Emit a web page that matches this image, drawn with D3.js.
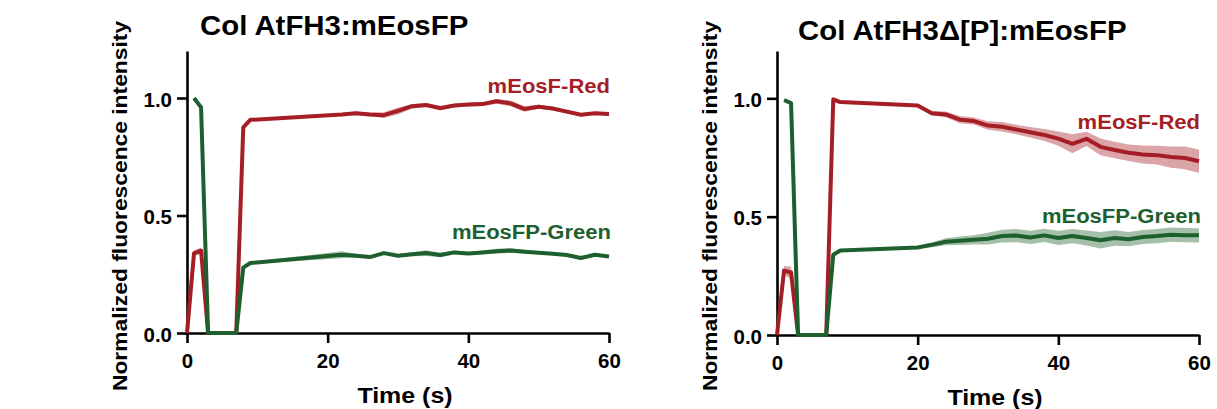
<!DOCTYPE html>
<html>
<head>
<meta charset="utf-8">
<script src="https://cdn.jsdelivr.net/npm/d3@7"></script>
<style>
  html, body { margin: 0; padding: 0; background: #fff; }
  svg { display: block; }
  text { font-family: "Liberation Sans", Arial, sans-serif; font-weight: bold; }
</style>
</head>
<body>
<svg id="chart" width="1217" height="409"></svg>
<script>
// ---------- DATA ----------
const titles = ["Col AtFH3:mEosFP", "Col AtFH3\u0394[P]:mEosFP"];
const yTicks = [0, 0.5, 1.0];
const xTicks = [0, 20, 40, 60];
const seriesNames = ["mEosF-Red", "mEosFP-Green"];

// Panel 1: Col AtFH3:mEosFP
const time1 = [0,1,2,3,4,5,6,7,8,9,22,24,26,28,30,32,34,36,38,40,42,44,46,48,50,52,54,56,58,60];
const red1 = [0,0.34,0.35,0,0,0,0,0,0.875,0.907,0.930,0.935,0.930,0.927,0.945,0.965,0.970,0.957,0.968,0.972,0.974,0.986,0.977,0.953,0.963,0.955,0.942,0.929,0.935,0.932];
const redSem1 = [0,0.01,0.015,0,0,0,0,0,0.005,0.005,0.006,0.008,0.008,0.012,0.015,0.010,0.008,0.010,0.008,0.008,0.008,0.010,0.012,0.012,0.008,0.008,0.008,0.006,0.006,0.006];
const green1 = [null,1.0,0.96,0,0,0,0,0,0.278,0.298,0.333,0.329,0.323,0.340,0.329,0.335,0.340,0.332,0.343,0.338,0.343,0.348,0.351,0.346,0.341,0.337,0.332,0.319,0.333,0.326];
const greenSem1 = [0,0,0,0,0,0,0,0,0.004,0.004,0.015,0.008,0.006,0.006,0.006,0.008,0.012,0.010,0.008,0.006,0.008,0.010,0.010,0.008,0.006,0.006,0.006,0.005,0.005,0.005];

// Panel 2: Col AtFH3Δ[P]:mEosFP
const time2 = [0,1,2,3,4,5,6,7,8,9,20,22,24,26,28,30,32,34,36,38,40,42,44,46,48,50,52,54,56,58,60];
const red2 = [0,0.272,0.264,0,0,0,0,0,0.996,0.984,0.970,0.937,0.932,0.910,0.904,0.885,0.880,0.868,0.857,0.845,0.830,0.808,0.829,0.795,0.782,0.770,0.763,0.760,0.752,0.748,0.734];
const redSem2 = [0,0.02,0.025,0,0,0,0,0,0.005,0.005,0.005,0.010,0.012,0.015,0.015,0.018,0.020,0.020,0.022,0.025,0.030,0.040,0.030,0.035,0.035,0.035,0.038,0.040,0.045,0.048,0.050];
const green2 = [null,0.993,0.98,0,0,0,0,0,0.339,0.357,0.370,0.381,0.394,0.398,0.402,0.407,0.418,0.420,0.412,0.421,0.410,0.418,0.410,0.400,0.410,0.405,0.414,0.418,0.424,0.422,0.421];
const greenSem2 = [0,0,0,0,0,0,0,0,0.004,0.004,0.005,0.010,0.015,0.018,0.020,0.025,0.027,0.028,0.028,0.028,0.030,0.030,0.032,0.035,0.033,0.030,0.030,0.030,0.030,0.030,0.030];

// ---------- STYLE / LAYOUT ----------
const RED = "#a61e25";
const GREEN = "#1d5f2e";
const FONT = 19.5;

const panels = [
  { title: titles[0], time: time1, red: red1, redSem: redSem1, green: green1, greenSem: greenSem1,
    x0: 187, x1: 609, y0: 333, yTop: 51, titleX: 200, titleY: 35, ylabX: 127,
    redLabY: 93, greenLabY: 239 },
  { title: titles[1], time: time2, red: red2, redSem: redSem2, green: green2, greenSem: greenSem2,
    x0: 777, x1: 1199, y0: 335, yTop: 51, titleX: 798, titleY: 40, ylabX: 717,
    redLabY: 129, greenLabY: 223 }
];

const svg = d3.select("#chart");

function txt(g, s, x, y, size, sx, anchor, color, rot) {
  return g.append("text")
    .attr("transform", `translate(${x},${y}) rotate(${rot || 0}) scale(${sx},1)`)
    .attr("text-anchor", anchor)
    .style("font-size", size + "px")
    .attr("fill", color || "#000")
    .text(s);
}

panels.forEach(p => {
  const g = svg.append("g");
  const x = d3.scaleLinear().domain([0, 60]).range([p.x0, p.x1]);
  const y = d3.scaleLinear().domain([0, 1.2]).range([p.y0, p.yTop]);

  const rows = p.time.map((t, i) => ({ t, r: p.red[i], rs: p.redSem[i], gr: p.green[i], gs: p.greenSem[i] }));

  // bands
  const areaR = d3.area().x(d => x(d.t)).y0(d => y(d.r - d.rs)).y1(d => y(d.r + d.rs));
  const areaG = d3.area().defined(d => d.gr !== null).x(d => x(d.t)).y0(d => y(d.gr - d.gs)).y1(d => y(d.gr + d.gs));
  g.append("path").datum(rows).attr("d", areaR).attr("fill", RED).attr("fill-opacity", 0.4);
  g.append("path").datum(rows).attr("d", areaG).attr("fill", GREEN).attr("fill-opacity", 0.4);

  // axes
  const ax = g.append("g").attr("transform", `translate(0,${p.y0})`)
    .call(d3.axisBottom(x).tickValues(xTicks).tickSize(10).tickSizeOuter(0).tickFormat(d3.format("d")));
  const ay = g.append("g").attr("transform", `translate(${p.x0},0)`)
    .call(d3.axisLeft(y).tickValues(yTicks).tickSize(10).tickSizeOuter(0).tickFormat(d3.format(".1f")));
  [ax, ay].forEach(a => {
    a.select(".domain").attr("stroke", "#000").attr("stroke-width", 2.6);
    a.selectAll(".tick line").attr("stroke", "#000").attr("stroke-width", 2.6);
    a.selectAll(".tick text").style("font-size", FONT + "px").attr("fill", "#000");
  });
  ax.selectAll(".tick text").attr("y", 0).attr("dy", null)
    .attr("transform", "translate(0,35) scale(1.05,1)");
  ay.selectAll(".tick text").attr("x", 0).attr("dy", null)
    .attr("transform", "translate(-15,8) scale(1.05,1)");

  // lines
  const lineR = d3.line().x(d => x(d.t)).y(d => y(d.r));
  const lineG = d3.line().defined(d => d.gr !== null).x(d => x(d.t)).y(d => y(d.gr));
  g.append("path").datum(rows).attr("d", lineR).attr("fill", "none")
    .attr("stroke", RED).attr("stroke-width", 4).attr("stroke-linejoin", "round");
  g.append("path").datum(rows).attr("d", lineG).attr("fill", "none")
    .attr("stroke", GREEN).attr("stroke-width", 4).attr("stroke-linejoin", "round");

  // texts
  txt(g, p.title, p.titleX, p.titleY, 28, 1.05, "start", "#000");
  txt(g, "Time (s)", (p.x0 + p.x1) / 2 + 7, p.y0 + 70, 22.5, 1.11, "middle", "#000");
  txt(g, "Normalized fluorescence intensity", p.ylabX, 206, 19.5, 1.17, "middle", "#000", -90);
  txt(g, seriesNames[0], p.x1 + 1, p.redLabY, 19.5, 1.13, "end", RED);
  txt(g, seriesNames[1], p.x1 + 2, p.greenLabY, 19.5, 1.13, "end", GREEN);
});
</script>
</body>
</html>
